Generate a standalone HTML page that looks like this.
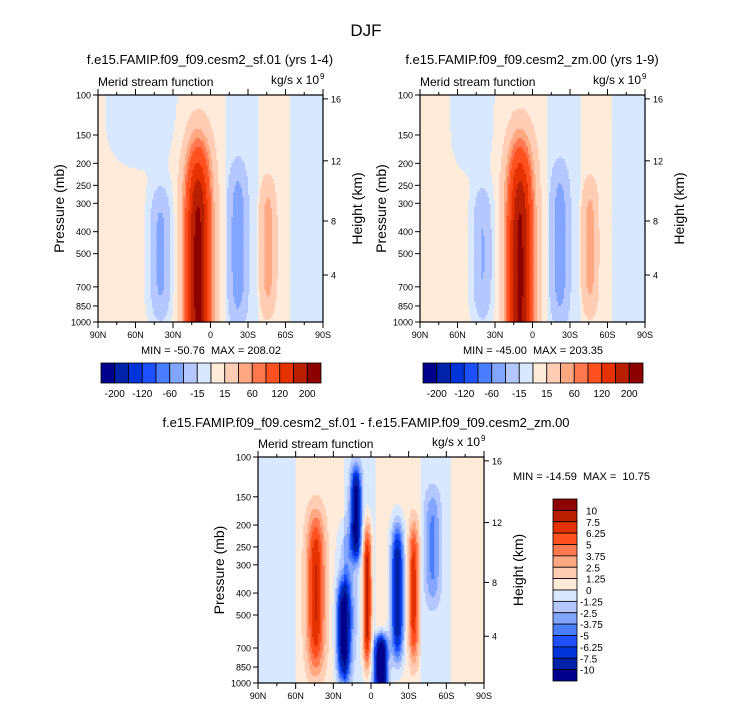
<!DOCTYPE html>
<html><head><meta charset="utf-8"><style>
html,body{margin:0;padding:0;background:#fff;}
svg{display:block;font-family:"Liberation Sans",sans-serif;}
text{white-space:pre;}
</style></head><body>
<svg id="fig" width="733" height="708" viewBox="0 0 733 708" xmlns="http://www.w3.org/2000/svg">
<text x="366" y="36" font-size="17" text-anchor="middle">DJF</text>
<text x="210" y="64" font-size="13" text-anchor="middle">f.e15.FAMIP.f09_f09.cesm2_sf.01 (yrs 1-4)</text>
<text x="532" y="64" font-size="13" text-anchor="middle">f.e15.FAMIP.f09_f09.cesm2_zm.00 (yrs 1-9)</text>
<text x="366" y="427" font-size="13" text-anchor="middle">f.e15.FAMIP.f09_f09.cesm2_sf.01 - f.e15.FAMIP.f09_f09.cesm2_zm.00</text>
<g id="layer"></g>
</svg>
<script>
// ---- data ----
const colors = ['#00008C','#0022A8','#0034DB','#1E50FF','#4B7DFF','#82A5FF','#B4C8FF','#D7E8FF','#FFEBDA','#FFCDB4','#FFA882','#FF7850','#FF5020','#E63200','#B91E00','#8C0000'];
const levelsAbs = [-200,-160,-120,-80,-60,-40,-15,0,15,40,60,80,120,160,200];
const levelsDiff = [-10,-7.5,-6.25,-5,-3.75,-2.5,-1.25,0,1.25,2.5,3.75,5,6.25,7.5,10];
const absLabels = ['-200','-120','-60','-15','15','60','120','200'];
const diffLabels = ['-10','-7.5','-6.25','-5','-3.75','-2.5','-1.25','0','1.25','2.5','3.75','5','6.25','7.5','10'];
const pressureTicks = [100,150,200,250,300,400,500,700,850,1000];
const heightTicks = [4,8,12,16];
const heightTickP = [621,359,195,104];
const latTicks = [90,75,60,45,30,15,0,-15,-30,-45,-60,-75,-90];
const latLabels = ['90N','','60N','','30N','','0','','30S','','60S','','90S'];

// panel 1 (sf.01) features: lat center (N positive), lat width, log10(p) center, log10(p) width, amplitude
const p1Lat   = [10, 40, -22, -46, 55];
const p1Width = [10, 8.5, 7, 6, 30];
const p1Zc    = [2.78, 2.7, 2.66, 2.67, 2.0];
const p1Zw    = [0.55, 0.3, 0.34, 0.29, 0.33];
const p1Amp   = [210, -52, -55, 48, -13];
const p1BgEdges = [90, -12, -38, -64, -90];
const p1BgVal   = [5, -5, 5, -5];

// panel 2 (zm.00)
const p2Lat   = [10, 40, -22, -46, 48];
const p2Width = [10, 8, 7, 6, 18];
const p2Zc    = [2.78, 2.7, 2.66, 2.67, 2.05];
const p2Zw    = [0.55, 0.3, 0.34, 0.29, 0.3];
const p2Amp   = [205, -46, -52, 46, -13];
const p2BgEdges = [90, -12, -38, -64, -90];
const p2BgVal   = [5, -5, 5, -5];

// difference panel
const p3Lat   = [44, 12, 22, 20, 3, -8, -21, -34, -49];
const p3Width = [7, 4, 5, 7, 3.5, 5, 5, 4, 6];
const p3Zc    = [2.6, 2.25, 2.78, 2.6, 2.62, 2.92, 2.6, 2.6, 2.4];
const p3Zw    = [0.35, 0.2, 0.22, 0.3, 0.32, 0.13, 0.3, 0.3, 0.25];
const p3Amp   = [7, -11, -10.5, -3, 9, -15, -10, 6.5, -3.5];
const p3BgEdges = [90, 60, 22, -4, -40, -63, -90];
const p3BgVal   = [-0.6, 0.6, -0.6, 0.6, -0.6, 0.6];

// ---- drawing ----
const NS='http://www.w3.org/2000/svg';
const layer=document.getElementById('layer');
function mk(tag,attrs,parent){const e=document.createElementNS(NS,tag);for(const k in attrs)e.setAttribute(k,attrs[k]);(parent||layer).appendChild(e);return e;}

function field(lat,z,F){
  let v=0;
  for(let i=0;i<F.bgVal.length;i++){ if(lat<=F.bgEdges[i]&&lat>=F.bgEdges[i+1]){v=F.bgVal[i];break;} }
  for(let i=0;i<F.lat.length;i++){
    const a=(lat-F.lat[i])/F.width[i], b=(z-F.zc[i])/F.zw[i];
    v+=F.amp[i]*Math.exp(-a*a-b*b*b*b);
  }
  return v;
}
function quant(v,levels){let k=0;for(const b of levels)if(v>=b)k++;return k;}

function panel(P){
  const g=mk('g',{});
  
  
  const X=lat=>P.x0+(90-lat)/180*P.w;
  const Y=p=>P.y0+(Math.log10(p)-2)*P.h;
  const NC=150, NR=100;
  const cw=P.w/NC, rh=P.h/NR;
  const cells=mk('g',{},g);
  
  
  for(let r=0;r<NR;r++){
    const z=2+(r+0.5)/NR;
    let start=0, cur=-1;
    for(let c=0;c<=NC;c++){
      let k=-2;
      if(c<NC){const lat=90-(c+0.5)/NC*180;k=quant(field(lat,z,P.F),P.levels);}
      if(k!==cur){
        if(cur>=0){
          const rc=mk('rect',{x:(P.x0+start*cw).toFixed(2),y:(P.y0+r*rh).toFixed(2),width:((c-start)*cw+0.6).toFixed(2),height:(rh+0.6).toFixed(2),fill:colors[cur]},cells);
          
          
        }
        cur=k;start=c;
      }
    }
  }
  const fr=mk('rect',{x:P.x0,y:P.y0,width:P.w,height:P.h,fill:'none',stroke:'#000','stroke-width':1.2},g);
  
  
  const ax=mk('g',{stroke:'#000','stroke-width':1},g);
  pressureTicks.forEach(p=>{
    const y=Y(p);
    mk('line',{x1:P.x0-5,y1:y,x2:P.x0,y2:y},ax);
    const t=mk('text',{x:P.x0-7,y:y+3.5,'font-size':9,'text-anchor':'end',stroke:'none'},g);
    t.textContent=p;
    
    
  });
  heightTicks.forEach((h,i)=>{
    const y=Y(heightTickP[i]);
    mk('line',{x1:P.x0+P.w,y1:y,x2:P.x0+P.w+5,y2:y},ax);
    const t=mk('text',{x:P.x0+P.w+8,y:y+3.5,'font-size':9,stroke:'none'},g);
    t.textContent=h;
    
    
  });
  latTicks.forEach((l,i)=>{
    const x=X(l), L=(i%2===0)?6:3;
    mk('line',{x1:x,y1:P.y0,x2:x,y2:P.y0-L},ax);
    mk('line',{x1:x,y1:P.y0+P.h,x2:x,y2:P.y0+P.h+L},ax);
    if(latLabels[i]){
      const t=mk('text',{x:x,y:P.y0+P.h+16,'font-size':9,'text-anchor':'middle'},g);
      t.textContent=latLabels[i];
      
      
    }
  });
  const yt=mk('text',{x:0,y:0,'font-size':14,'text-anchor':'middle',transform:`translate(${P.x0-34},${P.y0+P.h/2}) rotate(-90)`},g);
  yt.textContent='Pressure (mb)';
  
  
  const ht=mk('text',{x:0,y:0,'font-size':14,'text-anchor':'middle',transform:`translate(${P.x0+P.w+39},${P.y0+P.h/2}) rotate(-90)`},g);
  ht.textContent='Height (km)';
  
  
  const lt=mk('text',{x:P.x0,y:P.y0-9,'font-size':12},g);
  lt.textContent='Merid stream function';
  
  
  const rt=mk('text',{x:P.x0+P.w-4,y:P.y0-11,'font-size':12,'text-anchor':'end'},g);
  rt.textContent='kg/s x 10';
  
  
  const sup=mk('text',{x:P.x0+P.w-3,y:P.y0-16,'font-size':8},g);
  sup.textContent='9';
  
  
}

function hbar(x0,y0,w,h,name){
  const g=mk('g',{});
  
  
  const bw=w/colors.length;
  colors.forEach((c,i)=>{
    const r=mk('rect',{x:x0+i*bw,y:y0,width:bw,height:h,fill:c,stroke:'#000','stroke-width':0.8},g);
    
    
  });
  absLabels.forEach((s,i)=>{
    const t=mk('text',{x:x0+(2*i+1)*bw,y:y0+h+14,'font-size':10,'text-anchor':'middle'},g);
    t.textContent=s;
    
    
  });
}
function vbar(x0,y0,w,h){
  const g=mk('g',{});
  
  
  const bh=h/colors.length;
  colors.slice().reverse().forEach((c,i)=>{
    const r=mk('rect',{x:x0,y:y0+i*bh,width:w,height:bh,fill:c,stroke:'#000','stroke-width':0.8},g);
    
    
  });
  diffLabels.slice().reverse().forEach((s,i)=>{
    const t=mk('text',{x:x0+w+(s[0]==='-'?3:9),y:y0+(i+1)*bh+4,'font-size':10},g);
    t.textContent=s;
    
    
  });
}
function label(x,y,s,name,anchor){
  const t=mk('text',{x:x,y:y,'font-size':11,'text-anchor':anchor||'middle'});
  t.textContent=s;
  
  
}

panel({name:'panel-sf01',x0:98,y0:95,w:225,h:227,levels:levelsAbs,
  F:{lat:p1Lat,width:p1Width,zc:p1Zc,zw:p1Zw,amp:p1Amp,bgEdges:p1BgEdges,bgVal:p1BgVal}});
panel({name:'panel-zm00',x0:420,y0:95,w:225,h:227,levels:levelsAbs,
  F:{lat:p2Lat,width:p2Width,zc:p2Zc,zw:p2Zw,amp:p2Amp,bgEdges:p2BgEdges,bgVal:p2BgVal}});
panel({name:'panel-diff',x0:258,y0:457,w:226,h:226,levels:levelsDiff,
  F:{lat:p3Lat,width:p3Width,zc:p3Zc,zw:p3Zw,amp:p3Amp,bgEdges:p3BgEdges,bgVal:p3BgVal}});
label(211,354,'MIN = -50.76  MAX = 208.02','panel1-minmax');
label(533,354,'MIN = -45.00  MAX = 203.35','panel2-minmax');
label(513,480,'MIN = -14.59  MAX =  10.75','diff-minmax','start');
hbar(101,363,220,20,'panel1-colorbar');
hbar(423,363,220,20,'panel2-colorbar');
vbar(553,499,24,182);
</script>
</body></html>
